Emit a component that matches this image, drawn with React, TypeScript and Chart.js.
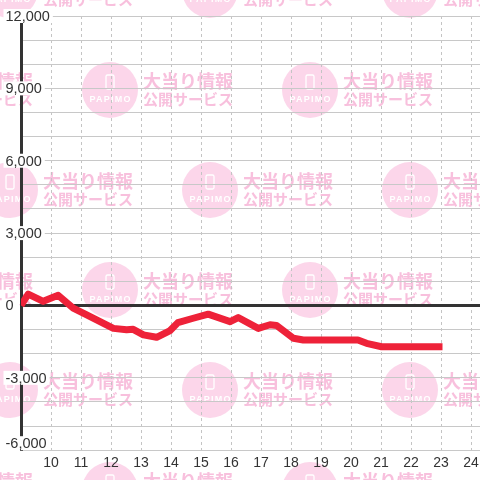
import React, { useEffect, useRef } from 'react';
import { Chart, registerables } from 'chart.js';

Chart.register(...registerables);

// hour of day (decimal) and running balance
const hours = [9.0, 9.24, 9.74, 10.24, 10.74, 11.19, 11.52, 12.08, 12.52, 12.74, 13.08, 13.52, 13.97, 14.23, 14.74, 15.24, 15.97, 16.24, 16.91, 17.3, 17.52, 18.08, 18.41, 20.23, 20.52, 21.02, 23.05];
const balance = [0, 470, 170, 420, -110, -390, -600, -950, -1010, -990, -1220, -1320, -1040, -710, -530, -360, -670, -500, -950, -800, -830, -1360, -1430, -1430, -1570, -1710, -1710];

const xMin = 9;
const xMax = 24.3;
const xFirstLabel = 10;
const yMin = -6000;
const yMax = 12000;
const yStep = 1000;
const yLabelStep = 3000;

const watermarkTop = '大当り情報';
const watermarkBottom = '公開サービス';
const watermarkLogo = 'PAPIMO';

const FONT = '"Liberation Sans", Arial, sans-serif';

function drawMark(ctx: CanvasRenderingContext2D, cx: number, cy: number) {
  ctx.fillStyle = '#fcd6ea';
  ctx.beginPath();
  ctx.arc(cx, cy, 28, 0, Math.PI * 2);
  ctx.fill();

  ctx.strokeStyle = '#ffffff';
  ctx.lineWidth = 1.3;
  ctx.beginPath();
  if ((ctx as any).roundRect) (ctx as any).roundRect(cx - 4, cy - 15, 8, 14, 1.5);
  else ctx.rect(cx - 4, cy - 15, 8, 14);
  ctx.stroke();

  ctx.fillStyle = '#ffffff';
  ctx.font = 'bold 9px ' + FONT;
  ctx.textAlign = 'center';
  ctx.textBaseline = 'middle';
  (ctx as any).letterSpacing = '1.2px';
  ctx.fillText(watermarkLogo, cx + 0.6, cy + 10);
  (ctx as any).letterSpacing = '0px';

  ctx.fillStyle = '#f8c0dd';
  ctx.textAlign = 'left';
  ctx.font = 'bold 18px "Noto Sans CJK JP", sans-serif';
  ctx.fillText(watermarkTop, cx + 33, cy - 9);
  ctx.font = 'bold 15px "Noto Sans CJK JP", sans-serif';
  ctx.fillText(watermarkBottom, cx + 33, cy + 9);
}

const watermarkPlugin = {
  id: 'papimoWatermark',
  beforeDraw(chart: any) {
    const { ctx, width, height } = chart;
    ctx.save();
    ctx.fillStyle = '#ffffff';
    ctx.fillRect(0, 0, width, height);
    for (let k = 0; k < 7; k++) {
      const cy = -10 + 100 * k;
      const x0 = k % 2 === 0 ? 10 : 110;
      for (let cx = x0 - 200; cx < width + 200; cx += 200) drawMark(ctx, cx, cy);
    }
    ctx.restore();
  },
};

// y tick labels drawn over the axis line with a white backdrop
const yLabelPlugin = {
  id: 'yLabels',
  beforeDatasetsDraw(chart: any) {
    const { ctx, chartArea } = chart;
    const scale = chart.scales.y;
    ctx.save();
    ctx.font = '14.5px ' + FONT;
    ctx.textAlign = 'left';
    ctx.textBaseline = 'middle';
    for (const t of scale.ticks) {
      if (t.value % yLabelStep !== 0) continue;
      const label = Number(t.value).toLocaleString('en-US');
      let y = scale.getPixelForValue(t.value);
      y = Math.min(y, chartArea.bottom - 7);
      const x = 5.5;
      const w = ctx.measureText(label).width;
      ctx.fillStyle = '#ffffff';
      ctx.fillRect(x - 2, y - 7, w + 5, 14);
      ctx.fillStyle = '#333333';
      ctx.fillText(label, x, y + 1);
    }
    ctx.restore();
  },
};

export default function App() {
  const ref = useRef<HTMLCanvasElement | null>(null);

  useEffect(() => {
    if (!ref.current) return;
    const chart = new Chart(ref.current, {
      type: 'line',
      data: {
        datasets: [
          {
            data: hours.map((h, i) => ({ x: h, y: balance[i] })),
            borderColor: '#ee2239',
            borderWidth: 7,
            pointRadius: 0,
            tension: 0,
            borderJoinStyle: 'round',
            fill: false,
          },
        ],
      },
      options: {
        animation: false,
        responsive: false,
        layout: { padding: { top: 16, left: 5, right: 0, bottom: 3 } },
        plugins: { legend: { display: false }, tooltip: { enabled: false } },
        scales: {
          x: {
            type: 'linear',
            min: xMin,
            max: xMax,
            afterFit: (s: any) => {
              s.paddingLeft = 0;
              s.paddingRight = 0;
            },
            grid: { color: '#c4c4c4', lineWidth: 1, drawTicks: false },
            border: { display: false, dash: [3, 3] },
            ticks: {
              stepSize: 1,
              autoSkip: false,
              includeBounds: false,
              maxRotation: 0,
              padding: 5,
              color: '#333333',
              font: { family: FONT, size: 14 },
              callback: (v: any) => (v >= xFirstLabel ? String(v) : ''),
            },
          },
          y: {
            type: 'linear',
            min: yMin,
            max: yMax,
            afterFit: (s: any) => {
              s.width = 16;
            },
            grid: {
              color: (c: any) => (c.tick && c.tick.value === 0 ? '#333333' : '#c8c8c8'),
              lineWidth: (c: any) => (c.tick && c.tick.value === 0 ? 3 : 1),
              drawTicks: false,
            },
            border: { display: true, color: '#333333', width: 3 },
            ticks: {
              stepSize: yStep,
              autoSkip: false,
              display: false,
            },
          },
        },
      } as any,
      plugins: [watermarkPlugin, yLabelPlugin],
    });
    return () => chart.destroy();
  }, []);

  return (
    <div style={{ position: 'fixed', left: 0, top: 0, width: 480, height: 480 }}>
      <canvas ref={ref} width={480} height={480} />
    </div>
  );
}
